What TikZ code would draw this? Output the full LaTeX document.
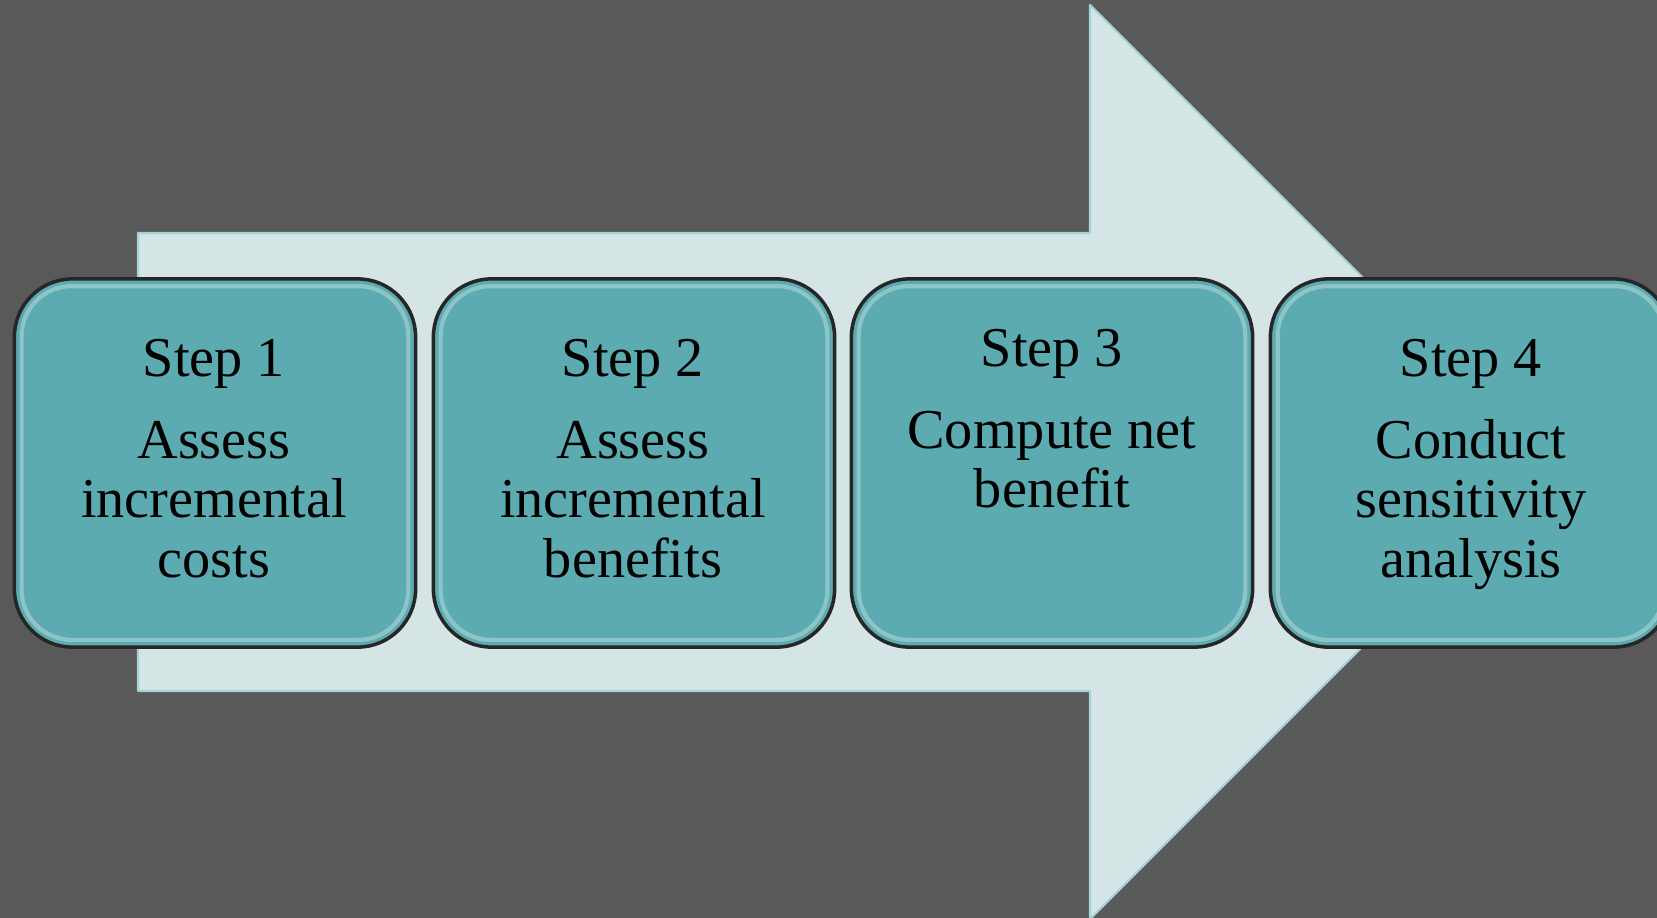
\documentclass[tikz,border=0pt]{standalone}
\usepackage{fontspec}
\setmainfont{Liberation Serif}
\definecolor{bgGray}{HTML}{595959}
\definecolor{arrowFill}{HTML}{D5E4E5}
\definecolor{arrowEdge}{HTML}{A3D3D6}
\definecolor{stepTeal}{HTML}{5BABB0}
\tikzset{
	stepbox/.style={draw=black!85, line width=1pt, fill=stepTeal, rounded corners=0.58cm, minimum width=4.01cm, minimum height=3.68cm, inner sep=0pt},
	gloss/.style={draw=white, draw opacity=0.3, line width=1.2pt, rounded corners=0.5cm},
	steptext/.style={anchor=north, align=center, inner sep=0pt, font=\fontsize{16}{16.8}\selectfont},
}
\begin{document}
\begin{tikzpicture}[x=0.01cm, y=-0.01cm, line join=round]
	\useasboundingbox (0,0) rectangle (1657,918);
	\clip (0,0) rectangle (1657,918);
	\fill[bgGray] (0,0) rectangle (1657,918);
	% big arrow behind the steps
	\filldraw[fill=arrowFill, draw=arrowEdge, line width=0.6pt] (138,233)--(1090,233)--(1090,5)--(1547,462)--(1090,919)--(1090,691)--(138,691)--cycle;

	\node[stepbox] (box1) at (215,463) {};
	\node[stepbox] (box2) at (634,463) {};
	\node[stepbox] (box3) at (1052,463) {};
	\node[stepbox] (box4) at (1471,463) {};
	\draw[gloss] ([xshift=0.09cm,yshift=-0.09cm]box1.north west) rectangle ([xshift=-0.09cm,yshift=0.09cm]box1.south east);
	\draw[gloss] ([xshift=0.09cm,yshift=-0.09cm]box2.north west) rectangle ([xshift=-0.09cm,yshift=0.09cm]box2.south east);
	\draw[gloss] ([xshift=0.09cm,yshift=-0.09cm]box3.north west) rectangle ([xshift=-0.09cm,yshift=0.09cm]box3.south east);
	\draw[gloss] ([xshift=0.09cm,yshift=-0.09cm]box4.north west) rectangle ([xshift=-0.09cm,yshift=0.09cm]box4.south east);

	\node[steptext] (text1) at (214,339) {Step 1\\[6.5pt]Assess\\incremental\\costs};
	\node[steptext] (text2) at (633,339) {Step 2\\[6.5pt]Assess\\incremental\\benefits};
	\node[steptext] (text3) at (1052,329) {Step 3\\[6.5pt]Compute net\\benefit};
	\node[steptext] (text4) at (1471,339) {Step 4\\[6.5pt]Conduct\\sensitivity\\analysis};
\end{tikzpicture}
\end{document}
